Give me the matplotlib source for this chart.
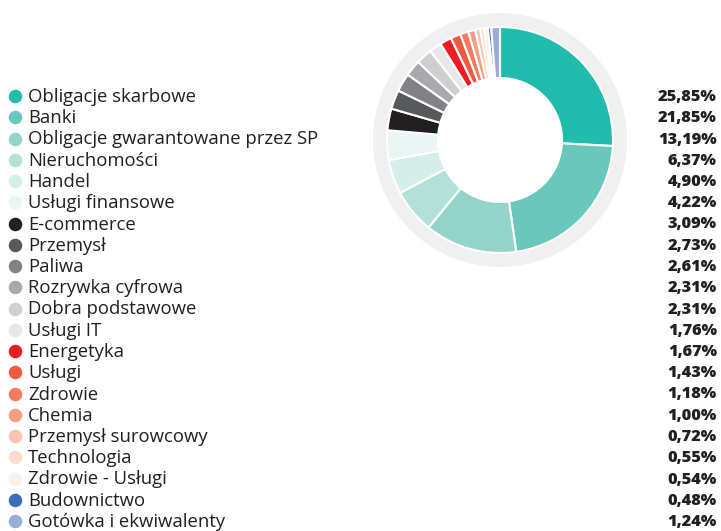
import matplotlib.pyplot as plt

labels = ["Obligacje skarbowe", "Banki", "Obligacje gwarantowane przez SP",
          "Nieruchomości", "Handel", "Usługi finansowe", "E-commerce",
          "Przemysł", "Paliwa", "Rozrywka cyfrowa", "Dobra podstawowe",
          "Usługi IT", "Energetyka", "Usługi", "Zdrowie", "Chemia",
          "Przemysł surowcowy", "Technologia", "Zdrowie - Usługi",
          "Budownictwo", "Gotówka i ekwiwalenty"]
values = [25.85, 21.85, 13.19, 6.37, 4.90, 4.22, 3.09, 2.73, 2.61, 2.31, 2.31,
          1.76, 1.67, 1.43, 1.18, 1.00, 0.72, 0.55, 0.54, 0.48, 1.24]
colors = ["#21bcae", "#69c7bc", "#93d3ca", "#b4e0da", "#d6eeea", "#ebf5f3",
          "#231f20", "#58595b", "#808285", "#a7a9ac", "#cdcfd1", "#e6e7e8",
          "#ed1c24", "#f15a3f", "#f37c60", "#f69f80", "#fac5b0", "#fcdcd0",
          "#fdf0ea", "#3e6fb6", "#9cacd9"]

W, H = 721, 531
fig = plt.figure(figsize=(W / 100, H / 100), dpi=100)

# legend part, drawn in pixel coordinates
ax = fig.add_axes([0, 0, 1, 1])
ax.set_xlim(0, W)
ax.set_ylim(H, 0)
ax.axis("off")

y0, step = 96, 21.25
for i, (lab, val, col) in enumerate(zip(labels, values, colors)):
    y = y0 + i * step
    ax.scatter(15, y, s=95, color=col, linewidths=0)
    ax.text(28, y + 1, lab, fontsize=13.3, family="Open Sans", color="#231f20",
            va="center", ha="left")
    ax.text(717, y + 1, f"{val:.2f}%".replace(".", ","), fontsize=11.8,
            family="Open Sans", fontweight="heavy", color="#231f20",
            va="center", ha="right")

# donut
cx, cy, r = 500, 140, 127
pax = fig.add_axes([(cx - r) / W, (H - cy - r) / H, 2 * r / W, 2 * r / H])
pax.pie([1], radius=1.0, colors=["#eff0ef"],
        wedgeprops=dict(width=0.12, linewidth=0))
pax.pie(values, radius=113 / 127, colors=colors, startangle=90,
        counterclock=False,
        wedgeprops=dict(width=(113 - 62) / 127, edgecolor="white",
                        linewidth=1.5))
pax.set_xlim(-1, 1)
pax.set_ylim(-1, 1)
pax.set_aspect("equal")
pax.axis("off")

fig.savefig("out.png", dpi=100)
